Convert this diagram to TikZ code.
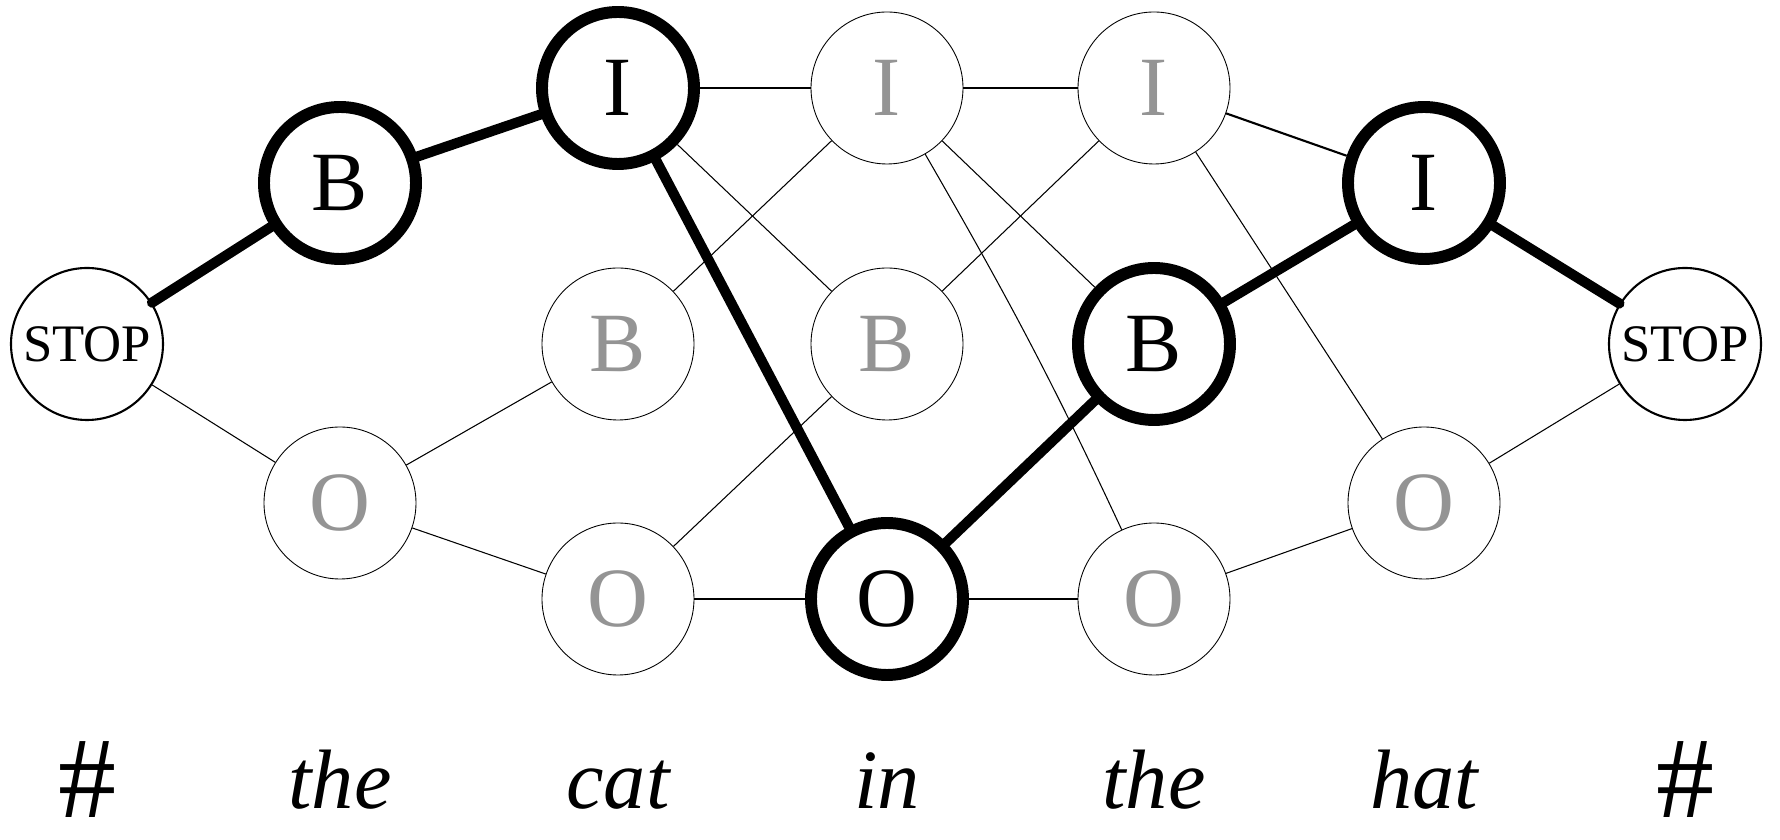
\documentclass[tikz,border=0pt]{standalone}
\usepackage{fontspec}
\setmainfont{Liberation Serif}
\usepackage{tikz}

\begin{document}
\begin{tikzpicture}[
  tag/.style={draw,circle,minimum size=1.52cm,inner sep=0pt,line width=0.25pt,text=black!42,font=\fontsize{24}{29}\selectfont},
  besttag/.style={tag,line width=3.4pt,text=black},
  stopnode/.style={draw,circle,minimum size=1.52cm,inner sep=0pt,line width=0.6pt,font=\fontsize{15}{18}\selectfont},
  word/.style={anchor=base,font=\fontsize{24}{29}\selectfont\itshape},
  edgeword/.style={anchor=base,font=\fontsize{33}{38}\selectfont},
  link/.style={line width=0.3pt},
  bestlink/.style={line width=2.9pt,line cap=round}
]
  \useasboundingbox (0,0) rectangle (17.8,8.4);

  \node[stopnode] (stopL) at (0.87,4.96) {STOP};
  \node[besttag] (b1) at (3.40,6.57) {B};
  \node[tag] (o1) at (3.40,3.37) {O};
  \node[besttag] (i2) at (6.18,7.52) {I};
  \node[tag] (b2) at (6.18,4.96) {B};
  \node[tag] (o2) at (6.18,2.41) {O};
  \node[tag] (i3) at (8.87,7.52) {I};
  \node[tag] (b3) at (8.87,4.96) {B};
  \node[besttag] (o3) at (8.87,2.41) {O};
  \node[tag] (i4) at (11.54,7.52) {I};
  \node[besttag] (b4) at (11.54,4.96) {B};
  \node[tag] (o4) at (11.54,2.41) {O};
  \node[besttag] (i5) at (14.24,6.57) {I};
  \node[tag] (o5) at (14.24,3.37) {O};
  \node[stopnode] (stopR) at (16.85,4.96) {STOP};

  \node[edgeword] (w0) at (0.87,0.22) {\#};
  \node[word] (w1) at (3.40,0.31) {the};
  \node[word] (w2) at (6.18,0.31) {cat};
  \node[word] (w3) at (8.87,0.31) {in};
  \node[word] (w4) at (11.54,0.31) {the};
  \node[word] (w5) at (14.24,0.31) {hat};
  \node[edgeword] (w6) at (16.85,0.22) {\#};

  \path [link] (stopL) edge (o1);
  \path [link] (o1) edge (b2);
  \path [link] (o1) edge (o2);
  \path [link] (i2) edge (i3);
  \path [link] (i2) edge (b3);
  \path [link] (b2) edge (i3);
  \path [link] (o2) edge (b3);
  \path [link] (o2) edge (o3);
  \path [link] (i3) edge (i4);
  \path [link] (i3) edge (b4);
  \path [link] (i3) edge [out=-60,in=115] (o4);
  \path [link] (b3) edge (i4);
  \path [link] (o3) edge (o4);
  \path [link,line width=0.6pt] (i4) edge (i5);
  \path [link] (i4) edge (o5);
  \path [link] (o4) edge (o5);
  \path [link] (o5) edge (stopR);

  \path [bestlink] (stopL) edge (b1);
  \path [bestlink] (b1) edge (i2);
  \path [bestlink] (i2) edge (o3);
  \path [bestlink] (o3) edge (b4);
  \path [bestlink] (b4) edge (i5);
  \path [bestlink] (i5) edge (stopR);
\end{tikzpicture}
\end{document}
